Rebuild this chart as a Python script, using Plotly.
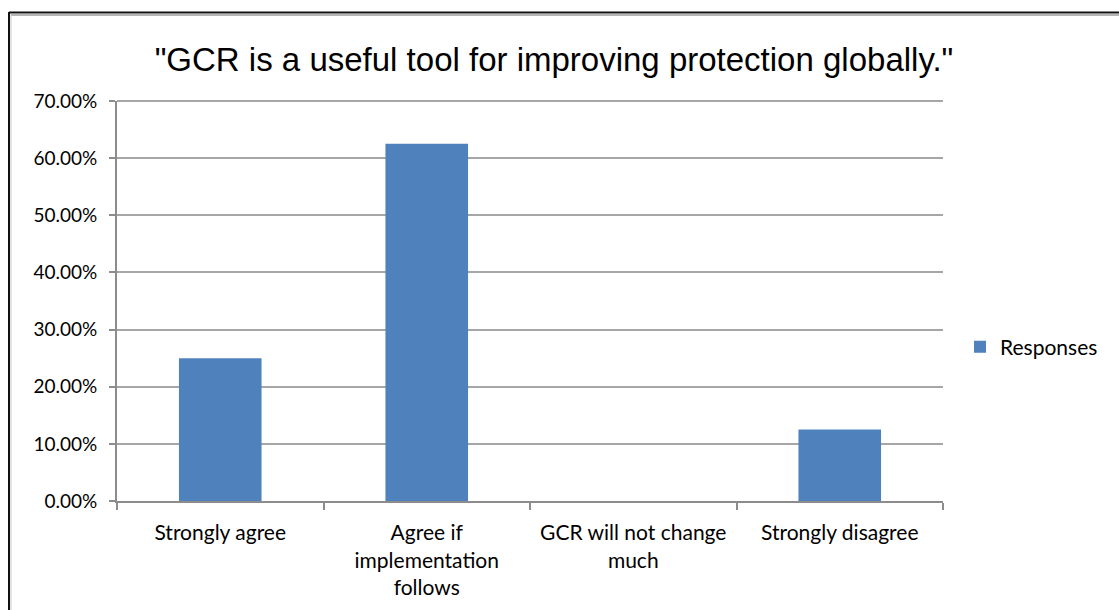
import plotly.graph_objects as go

# Survey results
categories = ["Strongly agree", "Agree if<br>implementation<br>follows",
              "GCR will not change<br>much", "Strongly disagree"]
responses = [0.25, 0.625, 0.0, 0.125]
series_name = "Responses"
title_text = '"GCR is a useful tool for improving protection globally."'
y_max = 0.7

W, H = 1119, 610
L, R, T, B = 117, 176, 101, 109
plot_w = W - L - R
plot_h = H - T - B


def px_x(x):
    return (x - L) / plot_w


def px_y(y):
    return (H - B - y) / plot_h


fig = go.Figure()
fig.add_trace(go.Bar(
    x=categories, y=responses, name=series_name,
    marker=dict(color="#4F81BD", line=dict(width=0)),
    width=0.4, showlegend=True,
))

grid = "#A6A6A6"
axis = "#8C8C8C"

fig.update_layout(
    width=W, height=H,
    margin=dict(l=L, r=R, t=T, b=B, autoexpand=False),
    paper_bgcolor="white", plot_bgcolor="white",
    title=dict(text=title_text, xref="container", x=554 / W, xanchor="center",
               yref="container", y=1 - 59 / H, yanchor="middle",
               font=dict(family="Liberation Sans", size=33, color="#000000")),
    showlegend=True,
    legend=dict(x=px_x(960), xanchor="left", y=px_y(347), yanchor="middle",
                font=dict(family="Lato", size=21, color="#000000"),
                bgcolor="rgba(0,0,0,0)"),
    xaxis=dict(
        type="category", showline=True, linecolor=axis, linewidth=2,
        ticks="outside", tickson="boundaries", ticklen=7, tickcolor=axis, tickwidth=2,
        showgrid=False,
        tickfont=dict(family="Lato", size=21, color="#000000"),
        ticklabelstandoff=12,
    ),
    yaxis=dict(
        range=[0, y_max], dtick=0.1, tickformat=".2%",
        showline=True, linecolor=axis, linewidth=2,
        ticks="outside", ticklen=6, tickcolor=axis, tickwidth=2,
        showgrid=True, gridcolor=grid, gridwidth=2,
        zeroline=False,
        tickfont=dict(family="Lato", size=19, color="#000000"),
        ticklabelstandoff=8,
    ),
    bargap=0.6,
)

# Top gridline along the upper edge of the plot area
fig.add_shape(type="line", xref="paper", yref="paper", x0=0, x1=1, y0=1, y1=1,
              line=dict(color=grid, width=2), layer="above")

# Outer frame: dark edge with a light inner shadow along top and left
fig.add_shape(type="line", xref="paper", yref="paper",
              x0=px_x(9), x1=px_x(1130), y0=px_y(12.5), y1=px_y(12.5),
              line=dict(color="#111111", width=2))
fig.add_shape(type="line", xref="paper", yref="paper",
              x0=px_x(11), x1=px_x(1130), y0=px_y(15), y1=px_y(15),
              line=dict(color="#B5B5B5", width=2))
fig.add_shape(type="line", xref="paper", yref="paper",
              x0=px_x(9), x1=px_x(9), y0=px_y(12), y1=px_y(620),
              line=dict(color="#111111", width=2))
fig.add_shape(type="line", xref="paper", yref="paper",
              x0=px_x(11), x1=px_x(11), y0=px_y(14), y1=px_y(620),
              line=dict(color="#C8C8C8", width=1))

fig.write_html("out.html")
